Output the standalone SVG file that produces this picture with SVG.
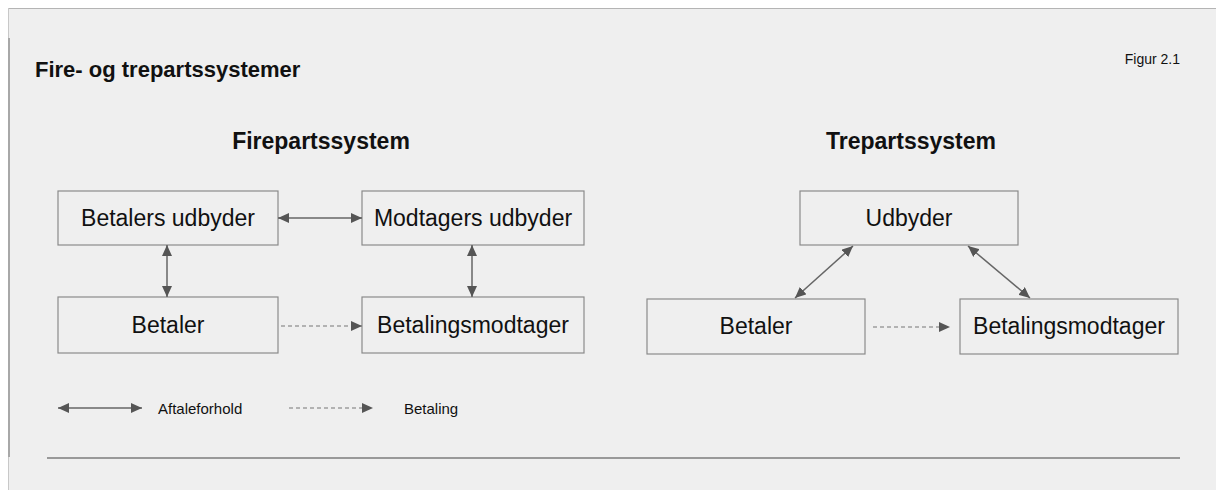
<svg xmlns="http://www.w3.org/2000/svg" width="1216" height="490" viewBox="0 0 1216 490">
<defs>
<style>
.node rect{fill:#efefef;stroke:#8a8a8a;stroke-width:1.2}
.node text{font-family:"Liberation Sans",Arial,sans-serif;font-size:23px;fill:#111;text-anchor:middle}
.title{font-family:"Liberation Sans",Arial,sans-serif;font-weight:bold;fill:#111}
.small{font-family:"Liberation Sans",Arial,sans-serif;fill:#111}
.solid{stroke:#666;stroke-width:1.5;fill:none}
.dash{stroke:#777;stroke-width:1.2;stroke-dasharray:4 3;fill:none}
</style>
<marker id="ah" markerUnits="userSpaceOnUse" markerWidth="12" markerHeight="10" refX="11" refY="5" orient="auto-start-reverse" viewBox="0 0 12 10">
<path d="M0,0 L11,5 L0,10 z" fill="#555"/>
</marker>
</defs>
<rect x="0" y="0" width="1216" height="490" fill="#ffffff"/>
<rect x="8" y="8" width="1208" height="482" fill="#efefef"/>
<line x1="8" y1="8.5" x2="1216" y2="8.5" stroke="#b4b4b4" stroke-width="1.2"/>
<line x1="8.5" y1="8" x2="8.5" y2="490" stroke="#c8c8c8" stroke-width="1"/>
<line x1="9" y1="38" x2="9" y2="457" stroke="#a8a8a8" stroke-width="2"/>
<line x1="47" y1="458" x2="1180" y2="458" stroke="#999" stroke-width="2"/>

<text class="title" x="35" y="77" font-size="22">Fire- og trepartssystemer</text>
<text class="small" x="1180" y="64" font-size="14" text-anchor="end">Figur 2.1</text>
<text class="title" x="321" y="149" font-size="23" text-anchor="middle">Firepartssystem</text>
<text class="title" x="911" y="149" font-size="23" text-anchor="middle">Trepartssystem</text>

<g id="n-betalers-udbyder" class="node"><rect x="58" y="191" width="220" height="54"/><text x="168" y="226">Betalers udbyder</text></g>
<g id="n-modtagers-udbyder" class="node"><rect x="362" y="191" width="222" height="54"/><text x="473" y="226">Modtagers udbyder</text></g>
<g id="n-betaler-4" class="node"><rect x="58" y="297" width="220" height="56"/><text x="168" y="333">Betaler</text></g>
<g id="n-betalingsmodtager-4" class="node"><rect x="362" y="297" width="222" height="56"/><text x="473" y="333">Betalingsmodtager</text></g>

<g id="n-udbyder-3" class="node"><rect x="800" y="191" width="218" height="54"/><text x="909" y="226">Udbyder</text></g>
<g id="n-betaler-3" class="node"><rect x="647" y="299" width="218" height="55"/><text x="756" y="334">Betaler</text></g>
<g id="n-betalingsmodtager-3" class="node"><rect x="960" y="299" width="218" height="55"/><text x="1069" y="334">Betalingsmodtager</text></g>

<g id="connectors">
<line class="solid" x1="278" y1="218" x2="362" y2="218" marker-start="url(#ah)" marker-end="url(#ah)"/>
<line class="solid" x1="167" y1="245" x2="167" y2="297" marker-start="url(#ah)" marker-end="url(#ah)"/>
<line class="solid" x1="472" y1="245" x2="472" y2="297" marker-start="url(#ah)" marker-end="url(#ah)"/>
<line class="dash" x1="281" y1="326" x2="362" y2="326" marker-end="url(#ah)"/>
<line class="solid" x1="853" y1="246" x2="795" y2="298" marker-start="url(#ah)" marker-end="url(#ah)"/>
<line class="solid" x1="968" y1="246" x2="1030" y2="298" marker-start="url(#ah)" marker-end="url(#ah)"/>
<line class="dash" x1="873" y1="327" x2="950" y2="327" marker-end="url(#ah)"/>
</g>

<g id="legend">
<line class="solid" x1="58" y1="408" x2="142" y2="408" marker-start="url(#ah)" marker-end="url(#ah)"/>
<text class="small" x="158" y="413.5" font-size="15">Aftaleforhold</text>
<line class="dash" x1="289" y1="408" x2="373" y2="408" marker-end="url(#ah)"/>
<text class="small" x="404" y="413.5" font-size="15">Betaling</text>
</g>
</svg>
